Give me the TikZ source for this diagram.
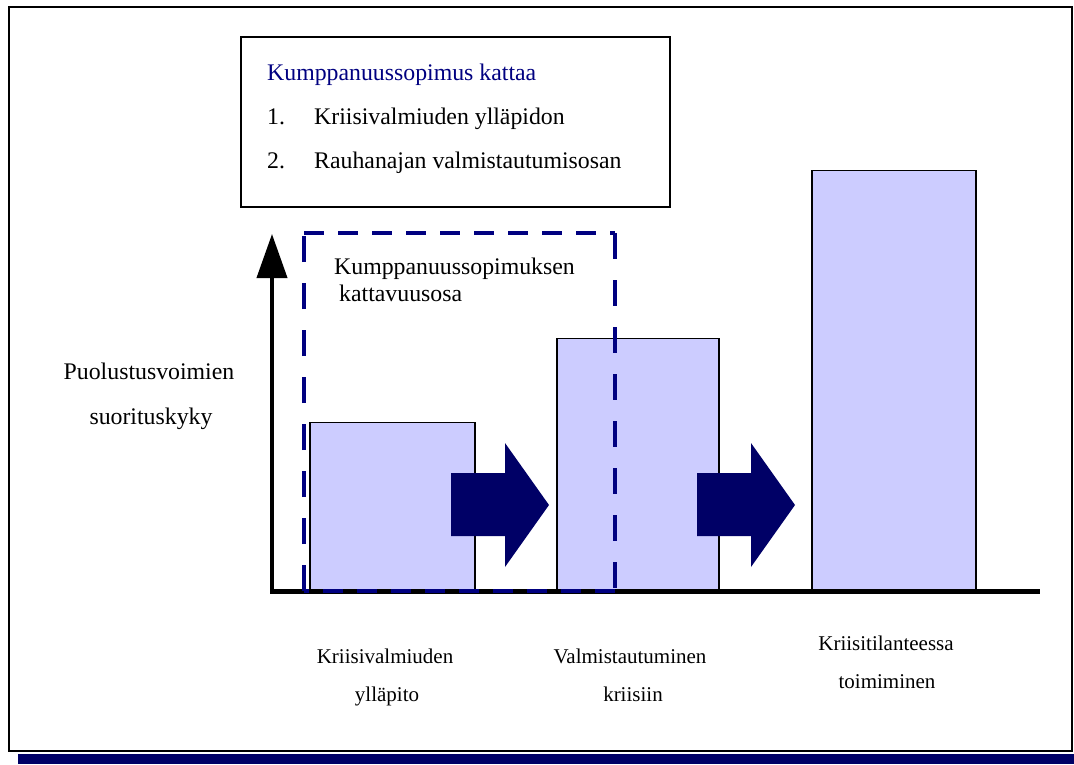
\documentclass[tikz,border=0pt]{standalone}
\usepackage{fontspec}
\setmainfont{Liberation Serif}
\usetikzlibrary{arrows.meta}
\definecolor{navytext}{HTML}{000080}
\definecolor{navyfill}{HTML}{000066}
\definecolor{barfill}{HTML}{CCCCFF}
\tikzset{
  lbl/.style={inner sep=0pt, font=\fontsize{23.8}{28}\selectfont},
  lblsmall/.style={inner sep=0pt, font=\fontsize{21}{25}\selectfont},
  barbox/.style={fill=barfill, draw=black, line width=1.5pt},
  coverage/.style={draw=navytext, line width=4pt},
  hdash/.style={dash pattern=on 20pt off 14pt},
  vdash/.style={dash pattern=on 26pt off 21pt},
  blockarrow/.style={fill=navyfill},
}
\begin{document}
\begin{tikzpicture}[x=1pt,y=-1pt]
\useasboundingbox (0,0) rectangle (1074,764);
% frame with bottom shadow
\fill[navyfill] (18,754) rectangle (1074,764);
\draw[line width=2pt] (9,7) rectangle (1072,751);

% legend box
\draw[line width=1.5pt] (241,37) rectangle (670,207);
\node[lbl, anchor=base west, text=navytext] (title) at (267,80) {Kumppanuussopimus kattaa};
\node[lbl, anchor=base west] (n1) at (267,124) {1.};
\node[lbl, anchor=base west] (i1) at (314,124) {Kriisivalmiuden ylläpidon};
\node[lbl, anchor=base west] (n2) at (267,168) {2.};
\node[lbl, anchor=base west] (i2) at (314,168) {Rauhanajan valmistautumisosan};

% bars
\node[barbox, minimum width=165pt, minimum height=168pt, inner sep=0pt, anchor=south west] (b1) at (309,591) {};
\node[barbox, minimum width=162pt, minimum height=252pt, inner sep=0pt, anchor=south west] (b2) at (556,591) {};
\node[barbox, minimum width=164pt, minimum height=420pt, inner sep=0pt, anchor=south west] (b3) at (811,591) {};

% block arrows between the bars
\foreach \dx in {0,246}{
  \fill[blockarrow, xshift=\dx pt] (451,473) -- (505,473) -- (505,443) -- (549,505)
     -- (505,567) -- (505,536) -- (451,536) -- cycle;
}

% axes
\coordinate (origin) at (272,591);
\coordinate (ytop) at (272,234);
\coordinate (xleft) at (270,591);
\coordinate (xright) at (1040,591);
\draw[line width=4pt, -{Triangle[length=44pt,width=30pt]}] (origin) -- (ytop);
\draw[line width=5pt] (xleft) -- (xright);

% coverage area (dashed)
\coordinate (c1) at (304,233);
\coordinate (c2) at (615,233);
\coordinate (c3) at (615,591);
\coordinate (c4) at (304,591);
\draw[coverage, hdash] (c1) -- (c2);
\draw[coverage, vdash] (c2) -- (c3);
\draw[coverage, hdash] (c3) -- (c4);
\draw[coverage, vdash] (c4) -- (c1);
\node[lbl, anchor=base west] (cov1) at (334,274) {Kumppanuussopimuksen};
\node[lbl, anchor=base west] (cov2) at (339,301) {kattavuusosa};

% axis label
\node[lbl, anchor=base] (ya) at (149,379) {Puolustusvoimien};
\node[lbl, anchor=base] (yb) at (151,424) {suorituskyky};

% category labels
\node[lblsmall, anchor=base] (l1a) at (385,663) {Kriisivalmiuden};
\node[lblsmall, anchor=base] (l1b) at (387,701) {ylläpito};
\node[lblsmall, anchor=base] (l2a) at (630,663) {Valmistautuminen};
\node[lblsmall, anchor=base] (l2b) at (633,701) {kriisiin};
\node[lblsmall, anchor=base] (l3a) at (886,650) {Kriisitilanteessa};
\node[lblsmall, anchor=base] (l3b) at (887,688) {toimiminen};
\end{tikzpicture}
\end{document}
